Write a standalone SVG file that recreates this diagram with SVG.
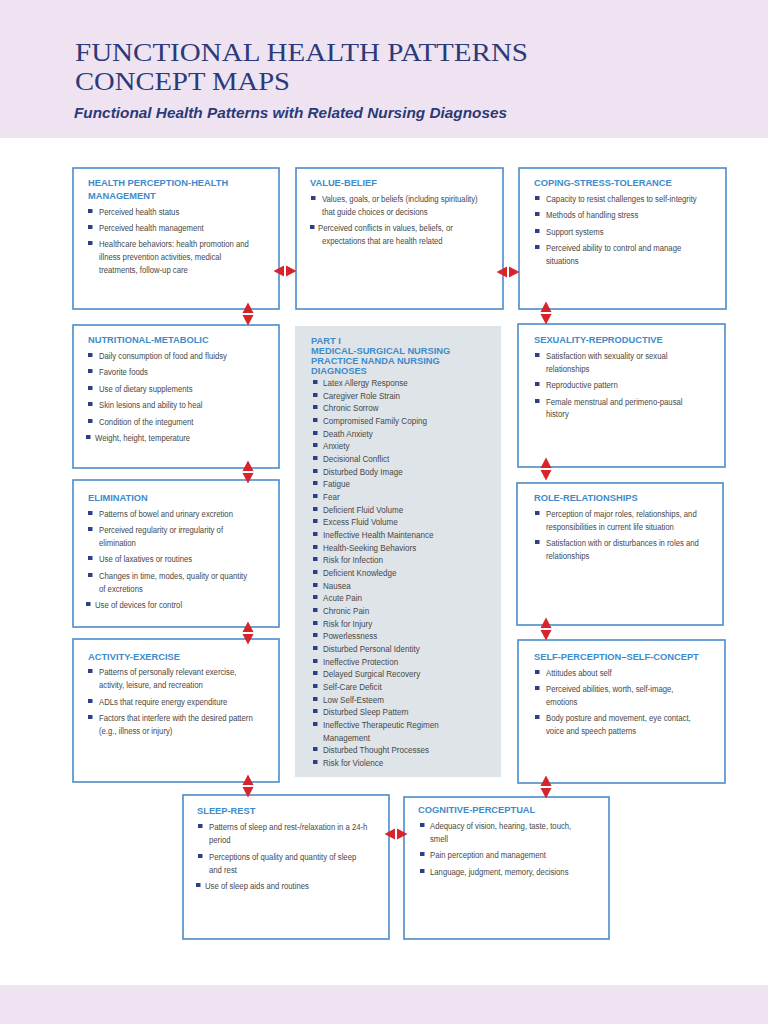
<svg xmlns="http://www.w3.org/2000/svg" xmlns:xlink="http://www.w3.org/1999/xlink" width="768" height="1024" viewBox="0 0 768 1024">
<style>
.band{fill:#efe3f1}
.title{font-family:"Liberation Serif","Times New Roman",serif;font-size:26px;fill:#2b3a78}
.sub{font-family:"Liberation Sans",Arial,sans-serif;font-size:14.5px;font-weight:bold;font-style:italic;fill:#2b3a78}
.box{fill:#ffffff;stroke:#4a8cc8;stroke-width:1.6}
.gbox{fill:#dfe4e9}
.hd{font-family:"Liberation Sans",Arial,sans-serif;font-weight:bold;font-size:9.3px;fill:#3d8bcb}
.tx{font-family:"Liberation Sans",Arial,sans-serif;font-size:9px;fill:#484848}
.tm{font-family:"Liberation Sans",Arial,sans-serif;font-size:9.6px;fill:#484848}
.bl{fill:#2d3f86}
.arr{fill:#d8232a}
</style>
<defs>
<g id="av"><polygon points="0,-11.5 5.5,-1 -5.5,-1"/><polygon points="-5.5,1 5.5,1 0,11.5"/></g>
<g id="ah"><polygon points="-11.5,0 -1,-5.5 -1,5.5"/><polygon points="1,-5.5 1,5.5 11.5,0"/></g>
</defs>
<rect class="band" x="0" y="0" width="768" height="138"/>
<rect class="band" x="0" y="985" width="768" height="39"/>
<text class="title" x="75" y="61" textLength="453" lengthAdjust="spacingAndGlyphs">FUNCTIONAL HEALTH PATTERNS</text>
<text class="title" x="75" y="90" textLength="215" lengthAdjust="spacingAndGlyphs">CONCEPT MAPS</text>
<text class="sub" x="74" y="118" textLength="433" lengthAdjust="spacingAndGlyphs">Functional Health Patterns with Related Nursing Diagnoses</text>

<g id="health-perception">
<rect class="box" x="73" y="168" width="206" height="141"/>
<text class="hd" x="88" y="186">HEALTH PERCEPTION-HEALTH</text>
<text class="hd" x="88" y="199">MANAGEMENT</text>
<rect class="bl" x="88" y="209" width="4.5" height="4"/><text class="tx" transform="translate(99 215) scale(0.86 1)">Perceived health status</text>
<rect class="bl" x="88" y="225" width="4.5" height="4"/><text class="tx" transform="translate(99 231) scale(0.86 1)">Perceived health management</text>
<rect class="bl" x="88" y="241" width="4.5" height="4"/><text class="tx" transform="translate(99 247) scale(0.86 1)">Healthcare behaviors: health promotion and</text>
<text class="tx" transform="translate(99 260) scale(0.86 1)">illness prevention activities, medical</text>
<text class="tx" transform="translate(99 273) scale(0.86 1)">treatments,  follow-up care</text>
</g>

<g id="value-belief">
<rect class="box" x="296" y="168" width="207" height="141"/>
<text class="hd" x="310" y="186">VALUE-BELIEF</text>
<rect class="bl" x="311" y="196" width="4.5" height="4"/><text class="tx" transform="translate(322 202) scale(0.86 1)">Values, goals, or beliefs (including spirituality)</text>
<text class="tx" transform="translate(322 215) scale(0.86 1)">that guide choices or decisions</text>
<rect class="bl" x="310" y="225" width="4.5" height="4"/><text class="tx" transform="translate(318 231) scale(0.86 1)">Perceived conflicts in values, beliefs, or</text>
<text class="tx" transform="translate(322 244) scale(0.86 1)">expectations that are health related</text>
</g>

<g id="coping-stress-tolerance">
<rect class="box" x="519" y="168" width="207" height="141"/>
<text class="hd" x="534" y="186">COPING-STRESS-TOLERANCE</text>
<rect class="bl" x="535" y="196" width="4.5" height="4"/><text class="tx" transform="translate(546 202) scale(0.86 1)">Capacity to resist challenges to self-integrity</text>
<rect class="bl" x="535" y="212" width="4.5" height="4"/><text class="tx" transform="translate(546 218) scale(0.86 1)">Methods of handling stress</text>
<rect class="bl" x="535" y="229" width="4.5" height="4"/><text class="tx" transform="translate(546 235) scale(0.86 1)">Support systems</text>
<rect class="bl" x="535" y="245" width="4.5" height="4"/><text class="tx" transform="translate(546 251) scale(0.86 1)">Perceived ability to control and manage</text>
<text class="tx" transform="translate(546 264) scale(0.86 1)">situations</text>
</g>

<g id="nutritional-metabolic">
<rect class="box" x="73" y="325" width="206" height="143"/>
<text class="hd" x="88" y="343">NUTRITIONAL-METABOLIC</text>
<rect class="bl" x="88" y="353" width="4.5" height="4"/><text class="tx" transform="translate(99 359) scale(0.86 1)">Daily consumption of food and fluidsy</text>
<rect class="bl" x="88" y="369" width="4.5" height="4"/><text class="tx" transform="translate(99 375) scale(0.86 1)">Favorite foods</text>
<rect class="bl" x="88" y="386" width="4.5" height="4"/><text class="tx" transform="translate(99 392) scale(0.86 1)">Use of dietary supplements</text>
<rect class="bl" x="88" y="402" width="4.5" height="4"/><text class="tx" transform="translate(99 408) scale(0.86 1)">Skin lesions and ability to heal</text>
<rect class="bl" x="88" y="419" width="4.5" height="4"/><text class="tx" transform="translate(99 425) scale(0.86 1)">Condition of the integument</text>
<rect class="bl" x="86" y="435" width="4.5" height="4"/><text class="tx" transform="translate(95 441) scale(0.86 1)">Weight, height, temperature</text>
</g>

<g id="elimination">
<rect class="box" x="73" y="480" width="206" height="147"/>
<text class="hd" x="88" y="501">ELIMINATION</text>
<rect class="bl" x="88" y="511" width="4.5" height="4"/><text class="tx" transform="translate(99 517) scale(0.86 1)">Patterns of bowel and urinary excretion</text>
<rect class="bl" x="88" y="527" width="4.5" height="4"/><text class="tx" transform="translate(99 533) scale(0.86 1)">Perceived regularity or irregularity of</text>
<text class="tx" transform="translate(99 546) scale(0.86 1)">elimination</text>
<rect class="bl" x="88" y="556" width="4.5" height="4"/><text class="tx" transform="translate(99 562) scale(0.86 1)">Use of laxatives or routines</text>
<rect class="bl" x="88" y="573" width="4.5" height="4"/><text class="tx" transform="translate(99 579) scale(0.86 1)">Changes in time, modes, quality or quantity</text>
<text class="tx" transform="translate(99 592) scale(0.86 1)">of excretions</text>
<rect class="bl" x="86" y="602" width="4.5" height="4"/><text class="tx" transform="translate(95 608) scale(0.86 1)">Use of devices for control</text>
</g>

<g id="activity-exercise">
<rect class="box" x="73" y="639" width="206" height="143"/>
<text class="hd" x="88" y="660">ACTIVITY-EXERCISE</text>
<rect class="bl" x="88" y="669" width="4.5" height="4"/><text class="tx" transform="translate(99 675) scale(0.86 1)">Patterns of personally relevant exercise,</text>
<text class="tx" transform="translate(99 688) scale(0.86 1)">activity, leisure, and recreation</text>
<rect class="bl" x="88" y="699" width="4.5" height="4"/><text class="tx" transform="translate(99 705) scale(0.86 1)">ADLs that require energy expenditure</text>
<rect class="bl" x="88" y="715" width="4.5" height="4"/><text class="tx" transform="translate(99 721) scale(0.86 1)">Factors that interfere with the desired pattern</text>
<text class="tx" transform="translate(99 734) scale(0.86 1)">(e.g., illness or injury)</text>
</g>

<g id="nanda-diagnoses">
<rect class="gbox" x="295" y="326" width="206" height="451"/>
<text class="hd" x="311" y="344">PART I</text>
<text class="hd" x="311" y="354">MEDICAL-SURGICAL NURSING</text>
<text class="hd" x="311" y="364">PRACTICE NANDA NURSING</text>
<text class="hd" x="311" y="374">DIAGNOSES</text>
<rect class="bl" x="313" y="380" width="4.5" height="4"/><text class="tm" transform="translate(323 386) scale(0.84 1)">Latex Allergy Response</text>
<rect class="bl" x="313" y="393" width="4.5" height="4"/><text class="tm" transform="translate(323 399) scale(0.84 1)">Caregiver Role Strain</text>
<rect class="bl" x="313" y="405" width="4.5" height="4"/><text class="tm" transform="translate(323 411) scale(0.84 1)">Chronic Sorrow</text>
<rect class="bl" x="313" y="418" width="4.5" height="4"/><text class="tm" transform="translate(323 424) scale(0.84 1)">Compromised Family Coping</text>
<rect class="bl" x="313" y="431" width="4.5" height="4"/><text class="tm" transform="translate(323 437) scale(0.84 1)">Death Anxiety</text>
<rect class="bl" x="313" y="443" width="4.5" height="4"/><text class="tm" transform="translate(323 449) scale(0.84 1)">Anxiety</text>
<rect class="bl" x="313" y="456" width="4.5" height="4"/><text class="tm" transform="translate(323 462) scale(0.84 1)">Decisional Conflict</text>
<rect class="bl" x="313" y="469" width="4.5" height="4"/><text class="tm" transform="translate(323 475) scale(0.84 1)">Disturbed Body Image</text>
<rect class="bl" x="313" y="481" width="4.5" height="4"/><text class="tm" transform="translate(323 487) scale(0.84 1)">Fatigue</text>
<rect class="bl" x="313" y="494" width="4.5" height="4"/><text class="tm" transform="translate(323 500) scale(0.84 1)">Fear</text>
<rect class="bl" x="313" y="507" width="4.5" height="4"/><text class="tm" transform="translate(323 513) scale(0.84 1)">Deficient Fluid Volume</text>
<rect class="bl" x="313" y="519" width="4.5" height="4"/><text class="tm" transform="translate(323 525) scale(0.84 1)">Excess Fluid Volume</text>
<rect class="bl" x="313" y="532" width="4.5" height="4"/><text class="tm" transform="translate(323 538) scale(0.84 1)">Ineffective Health Maintenance</text>
<rect class="bl" x="313" y="545" width="4.5" height="4"/><text class="tm" transform="translate(323 551) scale(0.84 1)">Health-Seeking Behaviors</text>
<rect class="bl" x="313" y="557" width="4.5" height="4"/><text class="tm" transform="translate(323 563) scale(0.84 1)">Risk for Infection</text>
<rect class="bl" x="313" y="570" width="4.5" height="4"/><text class="tm" transform="translate(323 576) scale(0.84 1)">Deficient Knowledge</text>
<rect class="bl" x="313" y="583" width="4.5" height="4"/><text class="tm" transform="translate(323 589) scale(0.84 1)">Nausea</text>
<rect class="bl" x="313" y="595" width="4.5" height="4"/><text class="tm" transform="translate(323 601) scale(0.84 1)">Acute Pain</text>
<rect class="bl" x="313" y="608" width="4.5" height="4"/><text class="tm" transform="translate(323 614) scale(0.84 1)">Chronic Pain</text>
<rect class="bl" x="313" y="621" width="4.5" height="4"/><text class="tm" transform="translate(323 627) scale(0.84 1)">Risk for Injury</text>
<rect class="bl" x="313" y="633" width="4.5" height="4"/><text class="tm" transform="translate(323 639) scale(0.84 1)">Powerlessness</text>
<rect class="bl" x="313" y="646" width="4.5" height="4"/><text class="tm" transform="translate(323 652) scale(0.84 1)">Disturbed Personal Identity</text>
<rect class="bl" x="313" y="659" width="4.5" height="4"/><text class="tm" transform="translate(323 665) scale(0.84 1)">Ineffective Protection</text>
<rect class="bl" x="313" y="671" width="4.5" height="4"/><text class="tm" transform="translate(323 677) scale(0.84 1)">Delayed Surgical Recovery</text>
<rect class="bl" x="313" y="684" width="4.5" height="4"/><text class="tm" transform="translate(323 690) scale(0.84 1)">Self-Care Deficit</text>
<rect class="bl" x="313" y="697" width="4.5" height="4"/><text class="tm" transform="translate(323 703) scale(0.84 1)">Low Self-Esteem</text>
<rect class="bl" x="313" y="709" width="4.5" height="4"/><text class="tm" transform="translate(323 715) scale(0.84 1)">Disturbed Sleep Pattern</text>
<rect class="bl" x="313" y="722" width="4.5" height="4"/><text class="tm" transform="translate(323 728) scale(0.84 1)">Ineffective Therapeutic Regimen</text>
<text class="tm" transform="translate(323 741) scale(0.84 1)">Management</text>
<rect class="bl" x="313" y="747" width="4.5" height="4"/><text class="tm" transform="translate(323 753) scale(0.84 1)">Disturbed Thought Processes</text>
<rect class="bl" x="313" y="760" width="4.5" height="4"/><text class="tm" transform="translate(323 766) scale(0.84 1)">Risk for Violence</text>
</g>

<g id="sexuality-reproductive">
<rect class="box" x="518" y="324" width="207" height="143"/>
<text class="hd" x="534" y="343">SEXUALITY-REPRODUCTIVE</text>
<rect class="bl" x="535" y="353" width="4.5" height="4"/><text class="tx" transform="translate(546 359) scale(0.86 1)">Satisfaction with sexuality or sexual</text>
<text class="tx" transform="translate(546 372) scale(0.86 1)">relationships</text>
<rect class="bl" x="535" y="382" width="4.5" height="4"/><text class="tx" transform="translate(546 388) scale(0.86 1)">Reproductive pattern</text>
<rect class="bl" x="535" y="399" width="4.5" height="4"/><text class="tx" transform="translate(546 405) scale(0.86 1)">Female menstrual and perimeno-pausal</text>
<text class="tx" transform="translate(546 417) scale(0.86 1)">history</text>
</g>

<g id="role-relationships">
<rect class="box" x="517" y="483" width="206" height="142"/>
<text class="hd" x="534" y="501">ROLE-RELATIONSHIPS</text>
<rect class="bl" x="535" y="511" width="4.5" height="4"/><text class="tx" transform="translate(546 517) scale(0.86 1)">Perception of major roles, relationships, and</text>
<text class="tx" transform="translate(546 530) scale(0.86 1)">responsibilities in current life situation</text>
<rect class="bl" x="535" y="540" width="4.5" height="4"/><text class="tx" transform="translate(546 546) scale(0.86 1)">Satisfaction with or disturbances in roles and</text>
<text class="tx" transform="translate(546 559) scale(0.86 1)">relationships</text>
</g>

<g id="self-perception-self-concept">
<rect class="box" x="518" y="640" width="207" height="143"/>
<text class="hd" x="534" y="660">SELF-PERCEPTION–SELF-CONCEPT</text>
<rect class="bl" x="535" y="670" width="4.5" height="4"/><text class="tx" transform="translate(546 676) scale(0.86 1)">Attitudes about self</text>
<rect class="bl" x="535" y="686" width="4.5" height="4"/><text class="tx" transform="translate(546 692) scale(0.86 1)">Perceived abilities, worth, self-image,</text>
<text class="tx" transform="translate(546 705) scale(0.86 1)">emotions</text>
<rect class="bl" x="535" y="715" width="4.5" height="4"/><text class="tx" transform="translate(546 721) scale(0.86 1)">Body posture and movement, eye contact,</text>
<text class="tx" transform="translate(546 734) scale(0.86 1)">voice and speech patterns</text>
</g>

<g id="sleep-rest">
<rect class="box" x="183" y="795" width="206" height="144"/>
<text class="hd" x="197" y="814">SLEEP-REST</text>
<rect class="bl" x="198" y="824" width="4.5" height="4"/><text class="tx" transform="translate(209 830) scale(0.86 1)">Patterns of sleep and rest-/relaxation in a 24-h</text>
<text class="tx" transform="translate(209 843) scale(0.86 1)">period</text>
<rect class="bl" x="198" y="854" width="4.5" height="4"/><text class="tx" transform="translate(209 860) scale(0.86 1)">Perceptions of quality and quantity of sleep</text>
<text class="tx" transform="translate(209 873) scale(0.86 1)">and rest</text>
<rect class="bl" x="196" y="883" width="4.5" height="4"/><text class="tx" transform="translate(205 889) scale(0.86 1)">Use of sleep aids and routines</text>
</g>

<g id="cognitive-perceptual">
<rect class="box" x="404" y="797" width="205" height="142"/>
<text class="hd" x="418" y="813">COGNITIVE-PERCEPTUAL</text>
<rect class="bl" x="420" y="823" width="4.5" height="4"/><text class="tx" transform="translate(430 829) scale(0.86 1)">Adequacy of vision, hearing, taste, touch,</text>
<text class="tx" transform="translate(430 842) scale(0.86 1)">smell</text>
<rect class="bl" x="420" y="852" width="4.5" height="4"/><text class="tx" transform="translate(430 858) scale(0.86 1)">Pain perception and management</text>
<rect class="bl" x="420" y="869" width="4.5" height="4"/><text class="tx" transform="translate(430 875) scale(0.86 1)">Language, judgment, memory, decisions</text>
</g>

<g id="connectors" class="arr">
<use xlink:href="#ah" x="285" y="271"/>
<use xlink:href="#ah" x="508" y="272"/>
<use xlink:href="#av" x="248" y="314"/>
<use xlink:href="#av" x="546" y="313"/>
<use xlink:href="#av" x="248" y="472"/>
<use xlink:href="#av" x="546" y="469"/>
<use xlink:href="#av" x="248" y="633"/>
<use xlink:href="#av" x="546" y="629"/>
<use xlink:href="#av" x="248" y="786"/>
<use xlink:href="#av" x="546" y="787"/>
<use xlink:href="#ah" x="396" y="834"/>
</g>
</svg>
